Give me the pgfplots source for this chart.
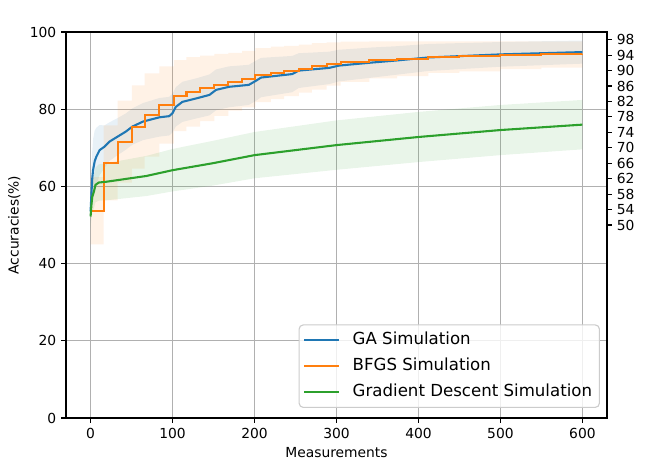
\documentclass[border=0pt]{standalone}
\usepackage{fontspec}
\setmainfont{DejaVu Sans}
\usepackage{pgfplots}
\usepackage{pgfplotstable}
\pgfplotsset{compat=1.18}
\usepgfplotslibrary{fillbetween}
\definecolor{tabblue}{HTML}{1F77B4}
\definecolor{taborange}{HTML}{FF7F0E}
\definecolor{tabgreen}{HTML}{2CA02C}
\definecolor{gridgray}{HTML}{B0B0B0}
\definecolor{legframe}{HTML}{CCCCCC}

% GA simulation: x, mean, std
\pgfplotstableread{
x m s
0 53.5 3
1 58.0 5
2 62.0 7
3 64.2 8
5 66.5 8
7 67.7 7.5
11 69.4 6.5
17 70.3 5.5
23 71.6 5
33 72.9 4.8
43 74.2 4.7
51 75.5 4.7
64 76.8 4.8
84 77.9 5
96 78.2 5
100 79.0 5
104 80.6 5.1
112 81.9 5.2
129 82.8 5.2
145 83.7 5.3
153 85.0 5.3
169 85.8 5.3
193 86.3 5.2
202 87.4 5.2
208 88.2 5.1
246 89.1 4.7
254 90.0 4.5
291 90.7 4.2
303 91.3 4.1
344 92.1 3.9
372 92.6 3.7
412 93.4 3.5
500 94.2 3.2
600 94.8 3
}\gadata

% BFGS simulation (steps): x, mean, std
\pgfplotstableread{
x m s
0 53.7 8.7
16 66.1 9.7
33 71.6 10.6
50.5 75.4 10.8
66 78.5 10.8
84 81.1 10
101.5 83.5 9.2
117 84.5 9
133.5 85.4 8.5
151 86.3 8
168 87.1 7.5
185 87.8 7.3
201 88.8 7
220 89.4 6.8
236 89.9 6.5
254 90.5 6.2
270 91.1 6
288 91.7 5.6
305 92.3 5.2
340 92.8 4.8
374 93.1 4.5
412 93.5 4.1
450 93.7 3.9
500 94.0 3.6
550 94.2 3.4
600 94.3 3.2
}\bfgsdata

% Gradient descent simulation: x, mean, std
\pgfplotstableread{
x m s
0 52.2 3
1 55.2 3.5
2 57.3 4
4 58.6 4.3
6 60.4 4.5
10 61.0 4.7
19 61.2 4.8
68 62.7 5.2
100 64.2 5.5
149 66.0 5.8
200 68.1 6.0
300 70.7 6.4
400 72.8 6.5
500 74.6 6.5
600 76.0 6.4
}\gddata

\begin{document}
\begin{tikzpicture}
\begin{axis}[
  at={(0,0)}, anchor=south west,
  scale only axis, width=389.52bp, height=277.92bp,
  xmin=-30, xmax=630, ymin=0, ymax=100,
  xtick={0,100,...,600}, ytick={0,20,...,100},
  grid=major, grid style={gridgray, line width=0.8bp},
  axis line style={line width=0.8bp},
  tick align=outside, tick style={black, line width=0.8bp}, major tick length=3.5bp,
  xtick pos=bottom, ytick pos=left,
  tick label style={font=\fontsize{10}{12}\selectfont},
  /pgf/number format/assume math mode=true,
  xlabel={Measurements}, ylabel={Accuracies(\%)},
  label style={font=\fontsize{10}{12}\selectfont},
  legend cell align=left,
  legend style={at={(0.987,0.026)}, anchor=south east,
    font=\fontsize{12}{14}\selectfont, draw=legframe, line width=0.8bp,
    rounded corners=3bp, fill=white, fill opacity=0.8, text opacity=1,
    inner xsep=0bp, inner ysep=3bp, row sep=2.7bp, column sep=0bp,
    nodes={inner xsep=0bp, inner ysep=2bp, text height=9bp, text depth=3bp}},
  legend image code/.code={\path[draw=none, fill=none] (0bp,0bp) -- (38.6bp,0bp); \draw[#1] (3.8bp,0bp) -- (28.8bp,0bp);},
]
% bands
\addplot[name path=gaU, draw=none, forget plot] table[x=x, y expr=\thisrow{m}+\thisrow{s}] {\gadata};
\addplot[name path=gaL, draw=none, forget plot] table[x=x, y expr=\thisrow{m}-\thisrow{s}] {\gadata};
\addplot[tabblue, fill opacity=0.1, draw=none, forget plot] fill between[of=gaU and gaL];
\addplot[name path=bfU, draw=none, const plot, forget plot] table[x=x, y expr=\thisrow{m}+\thisrow{s}] {\bfgsdata};
\addplot[name path=bfL, draw=none, const plot, forget plot] table[x=x, y expr=\thisrow{m}-\thisrow{s}] {\bfgsdata};
\addplot[taborange, fill opacity=0.1, draw=none, forget plot] fill between[of=bfU and bfL];
\addplot[name path=gdU, draw=none, forget plot] table[x=x, y expr=\thisrow{m}+\thisrow{s}] {\gddata};
\addplot[name path=gdL, draw=none, forget plot] table[x=x, y expr=\thisrow{m}-\thisrow{s}] {\gddata};
\addplot[tabgreen, fill opacity=0.1, draw=none, forget plot] fill between[of=gdU and gdL];
% means
\addplot[tabblue, line width=1.5bp] table[x=x, y=m] {\gadata};
\addlegendentry{GA Simulation\hspace*{5.3bp}}
\addplot[taborange, line width=1.5bp, const plot] table[x=x, y=m] {\bfgsdata};
\addlegendentry{BFGS Simulation\hspace*{5.3bp}}
\addplot[tabgreen, line width=1.5bp] table[x=x, y=m] {\gddata};
\addlegendentry{Gradient Descent Simulation\hspace*{5.3bp}}
\end{axis}
\begin{axis}[
  at={(0,0)}, anchor=south west,
  scale only axis, width=389.52bp, height=277.92bp,
  xmin=-30, xmax=630, ymin=0, ymax=100,
  axis x line=none, axis y line*=right,
  ytick={50,54,...,98},
  axis line style={line width=0.8bp, -},
  tick align=outside, tick style={black, line width=0.8bp}, major tick length=3.5bp,
  tick label style={font=\fontsize{10}{12}\selectfont},
  /pgf/number format/assume math mode=true,
]
\addplot[draw=none] coordinates {(0,50) (600,98)};
\end{axis}
\pgfresetboundingbox
\path[use as bounding box] (-47.52bp,-37.44bp) rectangle (416.88bp,300.96bp);
\end{tikzpicture}
\end{document}
